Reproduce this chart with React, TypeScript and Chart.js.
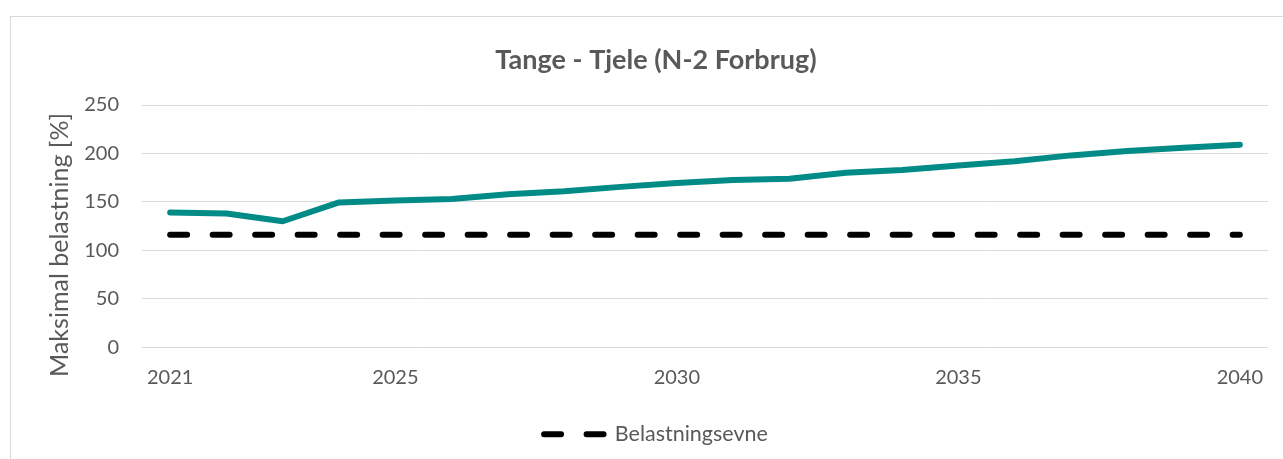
import React, { useEffect, useRef } from "react";
import { Chart, registerables } from "chart.js";

Chart.register(...registerables);

const years = [
  "2021", "2022", "2023", "2024", "2025", "2026", "2027", "2028", "2029", "2030",
  "2031", "2032", "2033", "2034", "2035", "2036", "2037", "2038", "2039", "2040",
];
const shownYearTicks = ["2021", "2025", "2030", "2035", "2040"];
const maksimalBelastning = [
  139, 138, 130, 149.5, 151.5, 153, 158, 161, 165.5, 169.5,
  172.5, 174, 180, 183, 187.5, 192, 198, 202.5, 206, 209,
];
const belastningsevne = [
  116, 116, 116, 116, 116, 116, 116, 116, 116, 116,
  116, 116, 116, 116, 116, 116, 116, 116, 116, 116,
];
const yMin = 0;
const yMax = 250;
const yStep = 50;

const chartTitle = "Tange - Tjele (N-2 Forbrug)";
const yAxisTitle = "Maksimal belastning [%]";
const legendLabel = "Belastningsevne";

const FONT = "Lato, 'Open Sans', sans-serif";
const TEXT = "#595959";
const GRID = "#d9d9d9";
const TEAL = "#008B87";
const DASH = [17, 25.5];

export default function App() {
  const canvasRef = useRef<HTMLCanvasElement | null>(null);

  useEffect(() => {
    document.body.style.margin = "0";
    document.body.style.overflow = "hidden";
    const canvas = canvasRef.current;
    if (!canvas) return;
    const chart = new Chart(canvas, {
      type: "line",
      data: {
        labels: years,
        datasets: [
          {
            label: "Maksimal belastning",
            data: maksimalBelastning,
            borderColor: TEAL,
            backgroundColor: TEAL,
            borderWidth: 6,
            pointRadius: 0,
            pointHoverRadius: 0,
            tension: 0,
            borderCapStyle: "round",
            borderJoinStyle: "round",
            fill: false,
          },
          {
            label: legendLabel,
            data: belastningsevne,
            borderColor: "#000000",
            backgroundColor: "#000000",
            borderWidth: 6,
            borderDash: DASH,
            borderCapStyle: "round",
            pointRadius: 0,
            pointHoverRadius: 0,
            tension: 0,
            fill: false,
          },
        ],
      },
      options: {
        responsive: false,
        animation: false,
        layout: { padding: { left: 44, right: 15, top: 0, bottom: 4 } },
        plugins: {
          title: {
            display: true,
            text: chartTitle,
            color: TEXT,
            font: { family: FONT, size: 27, weight: "bold" },
            padding: { top: 44, bottom: 28.6 },
          },
          legend: {
            display: true,
            position: "bottom",
            labels: {
              color: TEXT,
              font: { family: FONT, size: 21.5 },
              usePointStyle: true,
              pointStyle: "line",
              pointStyleWidth: 60,
              padding: 15.25,
              generateLabels: (c: any) => {
                const items = Chart.defaults.plugins.legend.labels.generateLabels(c);
                return items
                  .filter((it: any) => it.datasetIndex === 1)
                  .map((it: any) => ({
                    ...it,
                    lineDash: DASH,
                    lineCap: "round",
                    lineWidth: 6,
                    strokeStyle: "#000000",
                    pointStyle: "line",
                  }));
              },
            },
          },
          tooltip: { enabled: false },
        },
        scales: {
          x: {
            type: "category",
            offset: true,
            grid: { display: false, drawTicks: false },
            border: { display: false },
            ticks: {
              autoSkip: false,
              maxRotation: 0,
              minRotation: 0,
              padding: 18,
              color: TEXT,
              font: { family: FONT, size: 20 },
              callback: (_v: any, idx: number) =>
                shownYearTicks.includes(years[idx]) ? years[idx] : "",
            },
            afterFit: (scale: any) => {
              scale.height = 61;
            },
          },
          y: {
            min: yMin,
            max: yMax,
            grid: { color: GRID, lineWidth: 1, drawTicks: false },
            border: { display: false },
            ticks: {
              stepSize: yStep,
              padding: 23,
              color: TEXT,
              font: { family: FONT, size: 20 },
            },
            title: {
              display: true,
              text: yAxisTitle + "\u2003\u2003",
              color: TEXT,
              font: { family: FONT, size: 25 },
              padding: { top: 1, bottom: 0 },
            },
            afterFit: (scale: any) => {
              scale.width = 98;
            },
          },
        },
      },
    });
    return () => chart.destroy();
  }, []);

  return (
    <div
      style={{
        position: "fixed",
        left: 0,
        top: 0,
        width: 1283,
        height: 459,
        overflow: "hidden",
        background: "#ffffff",
      }}
    >
      <div
        style={{
          position: "absolute",
          left: 10,
          top: 16,
          width: 1300,
          height: 500,
          border: "1px solid #d9d9d9",
          boxSizing: "border-box",
        }}
      />
      <canvas
        ref={canvasRef}
        width={1283}
        height={459}
        style={{ position: "absolute", left: 0, top: 0, width: 1283, height: 459 }}
      />
    </div>
  );
}
